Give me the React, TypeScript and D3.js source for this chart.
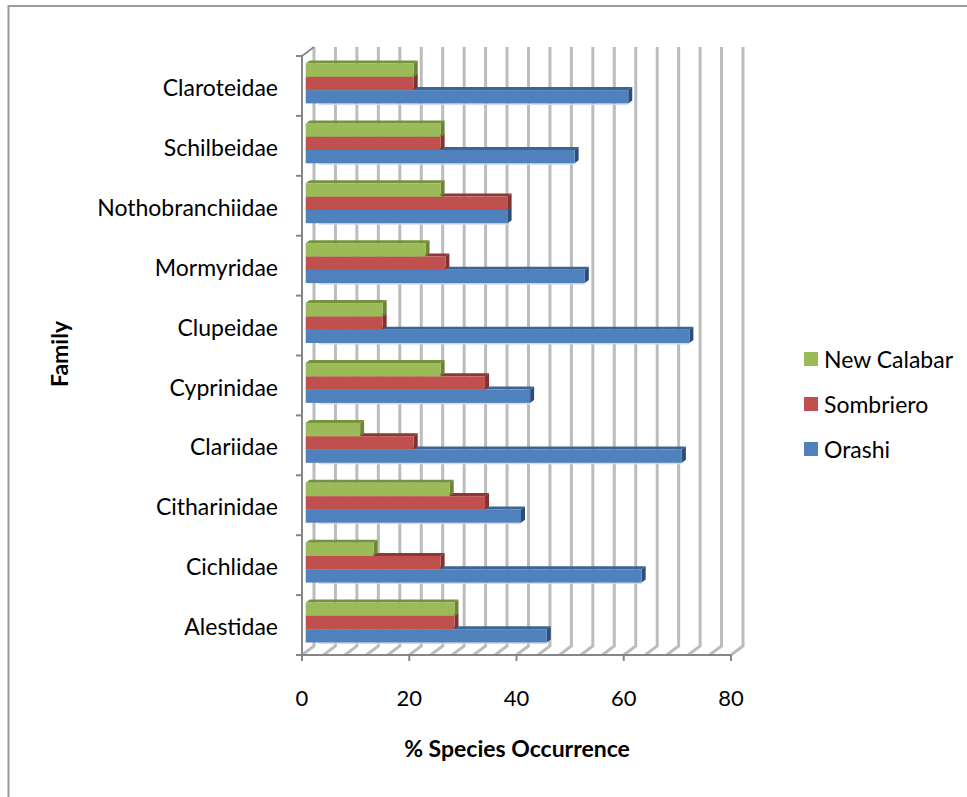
import React from "react";
import * as d3 from "d3";

const categories = ["Alestidae","Cichlidae","Citharinidae","Clariidae","Cyprinidae","Clupeidae","Mormyridae","Nothobranchiidae","Schilbeidae","Claroteidae"];
const orashi = [44.8,62.5,40,70,41.7,71.4,51.9,37.5,50,60];
const sombriero = [27.6,25,33.3,20,33.3,14.2,25.9,37.5,25,20];
const newCalabar = [27.6,12.5,26.7,10,25,14.2,22.2,25,25,20];
const xTicks = [0,20,40,60,80];
const gridTicks = [0,4,8,12,16,20,24,28,32,36,40,44,48,52,56,60,64,68,72,76,80];
const seriesList = [
  { name: "Orashi", values: orashi, front: "#4f81bd", top: "#3c6494", side: "#2c4d75" },
  { name: "Sombriero", values: sombriero, front: "#c0504d", top: "#8c3836", side: "#7f3330" },
  { name: "New Calabar", values: newCalabar, front: "#9bbb59", top: "#76923c", side: "#6a8535" },
];
const legendOrder = ["New Calabar", "Sombriero", "Orashi"];

const FONT = "Lato, 'Noto Sans', sans-serif";
const x = d3.scaleLinear().domain([0, 80]).range([302, 731]);
const y = d3.scaleBand<string>().domain(categories).range([655, 56]);
const legendY = d3.scalePoint<string>().domain(legendOrder).range([359, 449]);

const backDx = 12, backDy = 9, barInset = 4.5, barD = 4, barDy = 3, barTop = 7.5, barH = 13.3;
const poly = (p: number[][]) => p.map((q) => q.join(",")).join(" ");

export default function App() {
  const bottom = y.range()[0], top = y.range()[1];
  return (
    <svg width={967} height={797} style={{ position: "absolute", left: 0, top: 0, background: "#fff" }} fontFamily={FONT}>
      <path d="M8.5,797V6H967" fill="none" stroke="#9a9a9a" strokeWidth={2} />
      {gridTicks.map((t) => (
        <polyline key={t} fill="none" stroke="#bcbcbc" strokeWidth={3}
          points={poly([[x(t), bottom], [x(t) + backDx, bottom - backDy], [x(t) + backDx, top - backDy]])} />
      ))}
      <path d={`M${x(0)},${top}L${x(0) + backDx},${top - backDy}`} stroke="#8a8a8a" strokeWidth={2} fill="none" />
      <path d={`M${x(0)},${top}V${bottom}M${x(0) - 5},${bottom}H${x(80)}`} stroke="#868686" strokeWidth={2} fill="none" />
      {[...categories.map((c) => y(c)!), bottom].map((v, i) => (
        <line key={i} x1={x(0) - 6} x2={x(0)} y1={v} y2={v} stroke="#868686" strokeWidth={2} />
      ))}
      {xTicks.map((t) => (
        <g key={t}>
          <line x1={x(t)} x2={x(t)} y1={bottom} y2={bottom + 6} stroke="#868686" strokeWidth={2} />
          <text x={x(t)} y={697} textAnchor="middle" dominantBaseline="central" fontSize={22} fill="#000">{t}</text>
        </g>
      ))}
      {categories.map((c, ci) => {
        const y0 = y(c)! + barTop;
        return (
          <g key={c}>
            {seriesList.map((s, si) => {
              const yf = y0 + (2 - si) * barH;
              const xl = x(0) + 3.7;
              const xr = x(s.values[ci]) + barInset;
              return (
                <g key={s.name}>
                  {si === 0 && <rect x={xl + 13} y={yf + barH} width={xr - xl - 13} height={1.5} fill="#cfdbec" />}
                  <polygon points={poly([[xl, yf], [xl + barD, yf - barDy], [xr + barD, yf - barDy], [xr, yf]])} fill={s.top} />
                  <polygon points={poly([[xr, yf], [xr + barD, yf - barDy], [xr + barD, yf + barH - barDy], [xr, yf + barH]])} fill={s.side} />
                  <rect x={xl} y={yf} width={xr - xl} height={barH} fill={s.front} />
                </g>
              );
            })}
            <text x={278} y={y(c)! + 31} textAnchor="end" dominantBaseline="central" fontSize={23} fill="#000">{c}</text>
          </g>
        );
      })}
      {legendOrder.map((n) => {
        const s = seriesList.find((d) => d.name === n)!;
        const cy = legendY(n)!;
        return (
          <g key={n}>
            <rect x={804} y={cy - 7} width={14} height={14} fill={s.front} />
            <text x={824} y={cy} dominantBaseline="central" fontSize={23} fill="#000">{n}</text>
          </g>
        );
      })}
      <text x={517} y={748} textAnchor="middle" dominantBaseline="central" fontSize={23} fontWeight={700} fill="#000">% Species Occurrence</text>
      <text transform="translate(59,354) rotate(-90)" textAnchor="middle" dominantBaseline="central" fontSize={23} fontWeight={700} fill="#000">Family</text>
    </svg>
  );
}
